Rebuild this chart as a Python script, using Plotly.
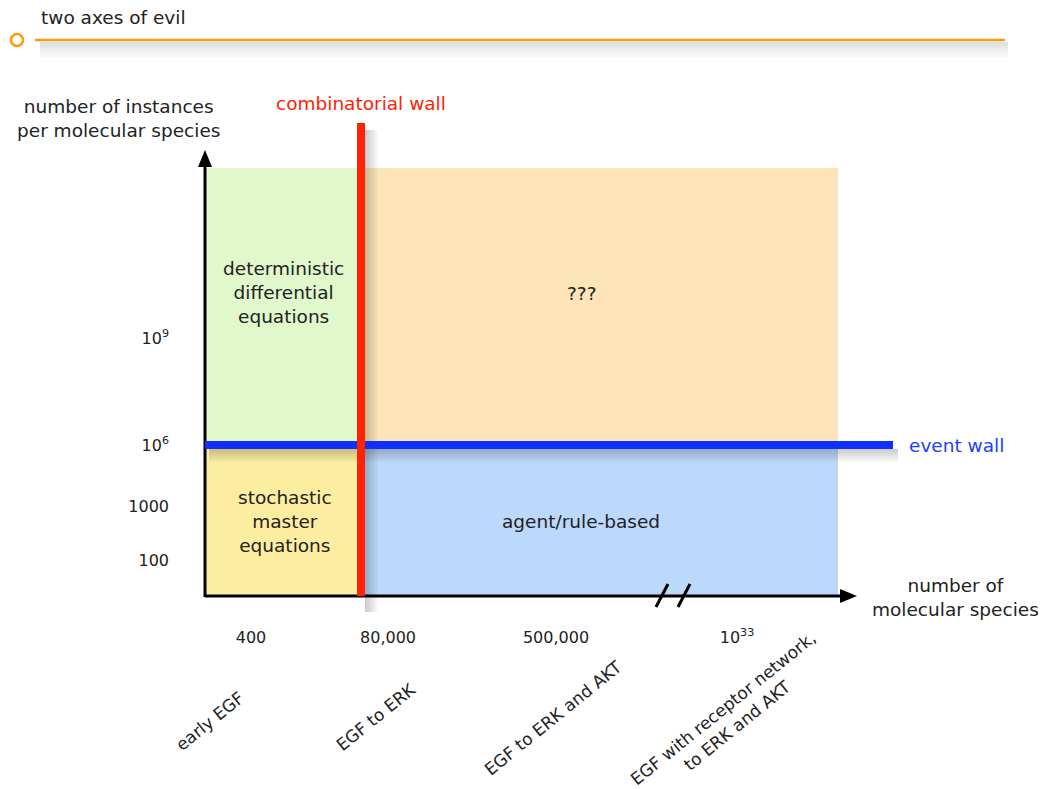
import plotly.graph_objects as go

# ---------------- data ----------------
title_text = "two axes of evil"
y_axis_title = "number of instances<br>per molecular species"
x_axis_title = "number of<br>molecular species"
species_counts = ["400", "80,000", "500,000", "10<sup>33</sup>"]
networks = ["early EGF", "EGF to ERK", "EGF to ERK and AKT",
            "EGF with receptor network,<br>to ERK and AKT"]
instance_ticks = ["100", "1000", "10<sup>6</sup>", "10<sup>9</sup>"]
regimes = ["deterministic<br>differential<br>equations", "???",
           "stochastic<br>master<br>equations", "agent/rule-based"]
walls = ["combinatorial wall", "event wall"]

# ---------------- layout positions (diagram units = screen px) ----------------
W, H = 1040, 789
x0, xw, xe = 205, 361, 838        # y-axis, combinatorial wall, region end
y_top, yw, y0 = 168, 445, 596     # region top, event wall, x-axis
species_pos = [251, 388, 556, 737]
network_pos = [(210, 721), (376, 717), (553, 718), (730, 717)]
instance_pos = [560, 506, 445, 338]
regime_pos = [(283, 292), (581, 293), (285, 521), (581, 521)]
region_cols = ["#e1f8cd", "#fde5b9", "#fdeda1", "#bcd8fb"]
region_boxes = [(x0, y_top, xw, yw), (xw, y_top, xe, yw),
                (x0, yw, xw, y0), (xw, yw, xe, y0)]

FONT = "DejaVu Sans, Verdana, sans-serif"
TXT = "#222222"
RED = "#ff2200"
BLUE = "#0f2fff"
ORANGE = "#ff9a10"
FS = 18.5

shapes = []
annotations = []

# regions
for (a, b, c, d), col in zip(region_boxes, region_cols):
    shapes.append(dict(type="rect", x0=a, y0=b, x1=c, y1=d, fillcolor=col,
                       line=dict(width=0), layer="below"))

# soft shadows
for k in range(1, 6):
    # title line shadow
    shapes.append(dict(type="rect", x0=40, x1=1008, y0=42, y1=42 + 3 * k,
                       fillcolor="rgba(0,0,0,0.022)", line=dict(width=0)))
    # event wall shadow
    shapes.append(dict(type="rect", x0=x0 + 4, x1=898, y0=yw + 4, y1=yw + 4 + 2.5 * k,
                       fillcolor="rgba(0,0,0,0.04)", line=dict(width=0)))
    # combinatorial wall shadow
    shapes.append(dict(type="rect", x0=xw + 4, x1=xw + 4 + 2.5 * k, y0=130, y1=612,
                       fillcolor="rgba(0,0,0,0.04)", line=dict(width=0)))

# title decoration
shapes.append(dict(type="line", x0=35, x1=1005, y0=40, y1=40,
                   line=dict(color=ORANGE, width=2.5)))
shapes.append(dict(type="circle", x0=11, x1=23, y0=34, y1=46,
                   line=dict(color=ORANGE, width=2.5), fillcolor="white"))

# axes lines + arrowheads
shapes.append(dict(type="line", x0=x0, x1=x0, y0=y0 + 1, y1=164,
                   line=dict(color="black", width=3)))
shapes.append(dict(type="path", path=f"M {x0-7} 167 L {x0} 150 L {x0+7} 167 Z",
                   fillcolor="black", line=dict(width=0)))
shapes.append(dict(type="line", x0=x0, x1=842, y0=y0, y1=y0,
                   line=dict(color="black", width=3)))
shapes.append(dict(type="path", path=f"M 840 {y0-7} L 857 {y0} L 840 {y0+7} Z",
                   fillcolor="black", line=dict(width=0)))
# axis break marks
for bx in (656, 678):
    shapes.append(dict(type="line", x0=bx, y0=607, x1=bx + 12, y1=584,
                       line=dict(color="black", width=3)))

# walls
shapes.append(dict(type="line", x0=x0, x1=893, y0=yw, y1=yw,
                   line=dict(color=BLUE, width=8)))
shapes.append(dict(type="line", x0=xw, x1=xw, y0=123, y1=y0,
                   line=dict(color=RED, width=8)))

# texts
annotations.append(dict(text=title_text, x=39, y=17, xanchor="left", yanchor="middle",
                        font=dict(size=FS, color=TXT)))
annotations.append(dict(text=y_axis_title, x=118, y=118, xanchor="center", yanchor="middle",
                        font=dict(size=FS, color=TXT)))
annotations.append(dict(text=x_axis_title, x=955, y=597, xanchor="center", yanchor="middle",
                        font=dict(size=FS, color=TXT)))
annotations.append(dict(text=walls[0], x=361, y=103, xanchor="center", yanchor="middle",
                        font=dict(size=FS, color=RED)))
annotations.append(dict(text=walls[1], x=907, y=445, xanchor="left", yanchor="middle",
                        font=dict(size=FS, color="#2040ff")))
for t, (px, py) in zip(regimes, regime_pos):
    annotations.append(dict(text=t, x=px, y=py, xanchor="center", yanchor="middle",
                            font=dict(size=FS, color=TXT)))
for t, (px, py) in zip(networks, network_pos):
    annotations.append(dict(text=t, x=px, y=py, xanchor="center", yanchor="middle",
                            textangle=-39, font=dict(size=17, color=TXT)))

for a in annotations:
    a.update(xref="x", yref="y", showarrow=False)
for s in shapes:
    s.update(xref="x", yref="y")

fig = go.Figure()
fig.add_trace(go.Scatter(x=[0], y=[0], mode="markers", marker=dict(opacity=0),
                         hoverinfo="skip", showlegend=False))
fig.update_layout(
    width=W, height=H, margin=dict(l=0, r=0, t=0, b=0),
    paper_bgcolor="white", plot_bgcolor="white",
    font=dict(family=FONT, size=16, color=TXT),
    shapes=shapes, annotations=annotations, showlegend=False,
    xaxis=dict(range=[0, W], showgrid=False, zeroline=False, showline=False,
               anchor="free", position=1 - y0 / H,
               tickmode="array", tickvals=species_pos, ticktext=species_counts,
               ticks="", ticklabelstandoff=30, tickfont=dict(size=16, color=TXT),
               fixedrange=True),
    yaxis=dict(range=[H, 0], showgrid=False, zeroline=False, showline=False,
               anchor="free", position=x0 / W,
               tickmode="array", tickvals=instance_pos, ticktext=instance_ticks,
               ticks="", ticklabelstandoff=36, tickfont=dict(size=16, color=TXT),
               fixedrange=True),
)

fig.write_html("out.html", config={"displayModeBar": False},
               post_script="document.body.style.margin='0';")
